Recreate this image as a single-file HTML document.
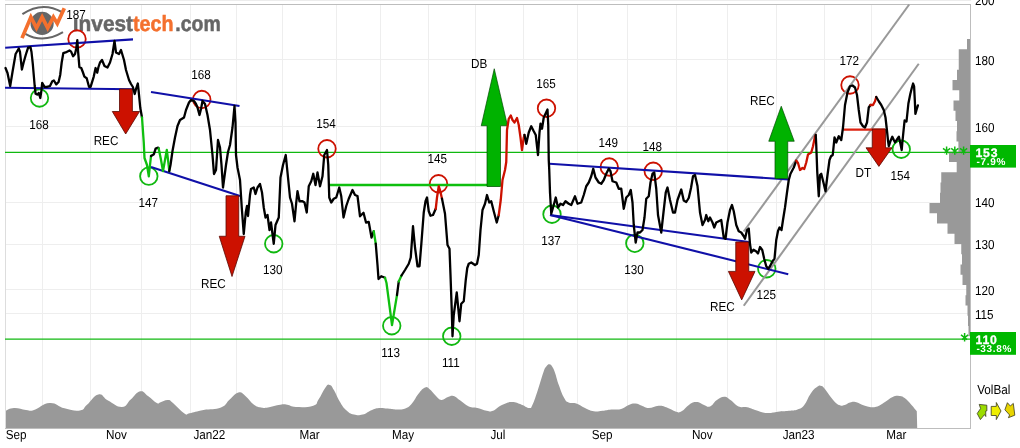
<!DOCTYPE html>
<html><head><meta charset="utf-8"><title>chart</title>
<style>html,body{margin:0;padding:0;background:#fff;}svg{display:block;will-change:transform;}text{text-rendering:geometricPrecision;}</style></head>
<body>
<svg width="1020" height="448" viewBox="0 0 1020 448">
<rect width="1020" height="448" fill="#fff"/>
<rect x="5" y="0" width="966" height="1" fill="#ececec"/>
<line x1="42.5" y1="4.5" x2="42.5" y2="428" stroke="#eeeeee" stroke-width="1"/>
<line x1="90.5" y1="4.5" x2="90.5" y2="428" stroke="#eeeeee" stroke-width="1"/>
<line x1="141.5" y1="4.5" x2="141.5" y2="428" stroke="#eeeeee" stroke-width="1"/>
<line x1="190.5" y1="4.5" x2="190.5" y2="428" stroke="#eeeeee" stroke-width="1"/>
<line x1="236.5" y1="4.5" x2="236.5" y2="428" stroke="#eeeeee" stroke-width="1"/>
<line x1="282.5" y1="4.5" x2="282.5" y2="428" stroke="#eeeeee" stroke-width="1"/>
<line x1="336.5" y1="4.5" x2="336.5" y2="428" stroke="#eeeeee" stroke-width="1"/>
<line x1="380.5" y1="4.5" x2="380.5" y2="428" stroke="#eeeeee" stroke-width="1"/>
<line x1="428.5" y1="4.5" x2="428.5" y2="428" stroke="#eeeeee" stroke-width="1"/>
<line x1="475.5" y1="4.5" x2="475.5" y2="428" stroke="#eeeeee" stroke-width="1"/>
<line x1="523.5" y1="4.5" x2="523.5" y2="428" stroke="#eeeeee" stroke-width="1"/>
<line x1="577.5" y1="4.5" x2="577.5" y2="428" stroke="#eeeeee" stroke-width="1"/>
<line x1="627.5" y1="4.5" x2="627.5" y2="428" stroke="#eeeeee" stroke-width="1"/>
<line x1="676.5" y1="4.5" x2="676.5" y2="428" stroke="#eeeeee" stroke-width="1"/>
<line x1="727.5" y1="4.5" x2="727.5" y2="428" stroke="#eeeeee" stroke-width="1"/>
<line x1="776.5" y1="4.5" x2="776.5" y2="428" stroke="#eeeeee" stroke-width="1"/>
<line x1="824.5" y1="4.5" x2="824.5" y2="428" stroke="#eeeeee" stroke-width="1"/>
<line x1="871.5" y1="4.5" x2="871.5" y2="428" stroke="#eeeeee" stroke-width="1"/>
<line x1="5" y1="59.5" x2="970" y2="59.5" stroke="#eeeeee" stroke-width="1"/>
<line x1="5" y1="126.5" x2="970" y2="126.5" stroke="#eeeeee" stroke-width="1"/>
<line x1="5" y1="202.5" x2="970" y2="202.5" stroke="#eeeeee" stroke-width="1"/>
<line x1="5" y1="244.5" x2="970" y2="244.5" stroke="#eeeeee" stroke-width="1"/>
<line x1="5" y1="289.5" x2="970" y2="289.5" stroke="#eeeeee" stroke-width="1"/>
<line x1="5" y1="313.5" x2="970" y2="313.5" stroke="#eeeeee" stroke-width="1"/>
<path d="M970,39.00L967,39.0L967,49.25L958.75,49.25L958.75,59.5L958.75,59.5L958.75,69.75L957,69.75L957,80.0L952.5,80.0L952.5,90.25L959.25,90.25L959.25,100.5L953.5,100.5L953.5,110.75L955.5,110.75L955.5,121.0L957,121.0L957,131.25L956.5,131.25L956.5,141.5L958.4,141.5L958.4,151.75L949,151.75L949,162.0L956.7,162.0L956.7,172.25L941.25,172.25L941.25,182.5L940.5,182.5L940.5,192.75L940,192.75L940,203.0L929.5,203.0L929.5,213.25L937,213.25L937,223.5L947.5,223.5L947.5,233.75L954.5,233.75L954.5,244.0L961.25,244.0L961.25,254.25L962,254.25L962,264.5L960.5,264.5L960.5,274.75L962.5,274.75L962.5,285.0L966.25,285.0L966.25,295.25L965.5,295.25L965.5,305.5L967.5,305.5L967.5,315.75L968,315.75L968,326.0L968.5,326.0L968.5,336.25L970,336.25Z" fill="#999"/>
<path d="M5.20,411.00C7.25,410.30 9.15,408.23 14.00,408.00C18.85,407.77 21.33,409.53 26.00,410.00C30.67,410.47 28.49,411.63 34.00,410.00C39.51,408.37 42.48,403.40 49.60,403.00C56.72,402.60 57.41,406.57 64.50,408.30C71.59,410.03 74.75,411.22 80.00,410.40C85.25,409.58 82.71,408.53 87.00,404.80C91.29,401.07 93.50,395.40 98.40,394.40C103.30,393.40 102.49,397.56 108.00,400.50C113.51,403.44 116.70,407.21 122.00,407.00C127.30,406.79 126.45,403.26 130.70,399.60C134.95,395.94 136.16,392.14 140.20,391.30C144.24,390.46 144.13,393.27 148.00,396.00C151.87,398.73 154.00,401.48 156.80,403.00C159.60,404.52 157.43,403.20 160.00,402.50C162.57,401.80 164.77,399.88 167.80,400.00C170.83,400.12 169.13,399.85 173.00,403.00C176.87,406.15 180.53,411.12 184.40,413.50C188.27,415.88 185.14,414.02 189.60,413.20C194.06,412.38 196.17,411.33 203.50,410.00C210.83,408.67 214.89,409.93 221.00,407.50C227.11,405.07 225.64,403.08 229.70,399.60C233.76,396.12 234.74,393.44 238.40,392.60C242.06,391.76 241.76,393.15 245.40,396.00C249.04,398.85 250.36,402.12 254.00,404.80C257.64,407.48 257.73,406.87 261.00,407.50C264.27,408.13 263.52,408.13 268.00,407.50C272.48,406.87 275.72,405.43 280.20,404.80C284.68,404.17 283.51,404.29 287.20,404.80C290.89,405.31 289.91,406.79 296.00,407.00C302.09,407.21 308.05,407.43 313.30,405.70C318.55,403.97 315.65,403.87 318.50,399.60C321.35,395.33 322.86,390.81 325.50,387.40C328.14,383.99 327.77,384.28 329.80,385.00C331.83,385.72 331.89,386.67 334.20,390.50C336.51,394.33 336.88,396.80 339.70,401.40C342.52,406.00 342.99,407.14 346.30,410.20C349.61,413.26 350.07,413.50 353.90,414.50C357.73,415.50 358.62,415.50 362.70,414.50C366.78,413.50 367.60,411.72 371.40,410.20C375.20,408.68 375.17,408.37 379.00,408.00C382.83,407.63 383.69,408.25 387.80,408.60C391.91,408.95 392.52,409.50 396.60,409.50C400.68,409.50 401.73,409.98 405.30,408.60C408.87,407.22 408.82,407.05 411.90,403.60C414.98,400.15 415.44,397.53 418.50,393.80C421.56,390.07 422.46,388.72 425.00,387.60C427.54,386.48 426.83,387.04 429.40,389.00C431.97,390.96 433.20,393.46 436.00,396.00C438.80,398.54 438.60,399.67 441.40,399.90C444.20,400.13 445.18,397.91 448.00,397.00C450.82,396.09 450.70,395.23 453.50,396.00C456.30,396.77 456.43,397.85 460.00,400.30C463.57,402.75 464.72,404.70 468.80,406.50C472.88,408.30 473.35,407.00 477.50,408.00C481.65,409.00 482.96,410.15 486.60,410.80C490.24,411.45 489.53,412.13 493.10,410.80C496.67,409.47 497.56,407.13 501.90,405.10C506.24,403.07 507.10,402.19 511.70,402.10C516.30,402.01 517.52,403.32 521.60,404.70C525.68,406.08 526.66,408.00 529.20,408.00C531.74,408.00 530.45,409.04 532.50,404.70C534.55,400.36 535.43,397.05 538.00,389.40C540.57,381.75 541.52,377.29 543.50,371.90C545.48,366.51 545.12,368.10 546.50,366.30C547.88,364.50 548.05,364.08 549.40,364.20C550.75,364.32 550.99,364.79 552.30,366.80C553.61,368.81 553.48,368.55 555.00,372.80C556.52,377.05 556.65,379.10 558.80,385.00C560.95,390.90 561.91,394.02 564.20,398.10C566.49,402.18 565.78,401.22 568.60,402.50C571.42,403.78 572.47,402.32 576.30,403.60C580.13,404.88 580.92,406.20 585.00,408.00C589.08,409.80 589.72,410.65 593.80,411.30C597.88,411.95 598.42,411.22 602.50,410.80C606.58,410.38 606.96,409.90 611.30,409.50C615.64,409.10 617.02,410.13 621.10,409.10C625.18,408.07 625.46,406.38 628.80,405.10C632.14,403.82 632.34,403.44 635.40,403.60C638.46,403.76 638.77,404.77 641.90,405.80C645.03,406.83 644.90,408.00 648.80,408.00C652.70,408.00 654.52,405.96 658.60,405.80C662.68,405.64 662.22,405.92 666.30,407.30C670.38,408.68 672.53,410.77 676.10,411.70C679.67,412.63 678.54,412.93 681.60,411.30C684.66,409.67 685.72,406.85 689.20,404.70C692.68,402.55 693.16,402.10 696.50,402.10C699.84,402.10 700.35,403.67 703.50,404.70C706.65,405.73 706.94,407.53 710.00,406.50C713.06,405.47 713.29,402.56 716.60,400.30C719.91,398.04 720.89,396.80 724.20,396.80C727.51,396.80 727.46,398.04 730.80,400.30C734.14,402.56 734.67,404.87 738.50,406.50C742.33,408.13 743.12,406.44 747.20,407.30C751.28,408.16 751.40,408.87 756.00,410.20C760.60,411.53 761.79,412.65 766.90,413.00C772.01,413.35 772.79,412.21 777.90,411.70C783.01,411.19 784.23,411.31 788.80,410.80C793.37,410.29 793.93,410.78 797.50,409.50C801.07,408.22 801.04,408.96 804.10,405.30C807.16,401.64 807.54,398.12 810.60,393.80C813.66,389.48 814.63,388.60 817.20,386.80C819.77,385.00 819.55,385.24 821.60,386.10C823.65,386.96 823.46,387.44 826.00,390.50C828.54,393.56 829.44,395.79 832.50,399.20C835.56,402.61 836.28,403.72 839.10,405.10C841.92,406.48 842.06,405.71 844.60,405.10C847.14,404.49 847.46,403.20 850.00,402.50C852.54,401.80 852.70,401.59 855.50,402.10C858.30,402.61 858.69,403.58 862.00,404.70C865.31,405.82 866.11,406.48 869.70,406.90C873.29,407.32 873.83,407.62 877.40,406.50C880.97,405.38 881.43,404.32 885.00,402.10C888.57,399.88 889.36,398.42 892.70,397.00C896.04,395.58 896.50,395.74 899.30,396.00C902.10,396.26 901.90,396.07 904.70,398.10C907.50,400.13 908.48,401.62 911.30,404.70C914.12,407.78 915.52,409.76 916.80,411.30L917.2,428L5.2,428Z" fill="#999"/>
<line x1="5.5" y1="4.5" x2="5.5" y2="429" stroke="#ddd" stroke-width="1"/>
<line x1="5" y1="4.5" x2="971" y2="4.5" stroke="#bdbdbd" stroke-width="1"/>
<line x1="970.5" y1="4" x2="970.5" y2="429" stroke="#bdbdbd" stroke-width="1"/>
<line x1="5" y1="428.5" x2="971" y2="428.5" stroke="#bdbdbd" stroke-width="1"/>
<g id="logo">
<circle cx="42.1" cy="23.4" r="11.6" fill="#666"/>
<path d="M22.4,14.2Q42,1 61.8,12" fill="none" stroke="#666" stroke-width="2.1"/>
<path d="M25.3,33.8Q43,44 63,32.2" fill="none" stroke="#666" stroke-width="2.1"/>
<polyline points="22,38.1 30.9,17.1 36.5,28 42.1,17.1 47.7,28 53.4,17.1 57.3,23.6 64.3,8.2" fill="none" stroke="#f4702e" stroke-width="3.7" stroke-linejoin="miter"/>
<g font-family="Liberation Sans, sans-serif" font-weight="bold" font-size="22">
<text x="72.8" y="31.3" fill="#666" stroke="#666" stroke-width="0.5" textLength="60.2" lengthAdjust="spacingAndGlyphs">&#305;nvest</text>
<text x="133" y="31.3" fill="#f4702e" stroke="#f4702e" stroke-width="0.5" textLength="40.5" lengthAdjust="spacingAndGlyphs">tech</text>
<text x="175.3" y="31.3" fill="#666" stroke="#666" stroke-width="0.5" textLength="45.4" lengthAdjust="spacingAndGlyphs">.com</text>
</g></g>
<line x1="5" y1="152.4" x2="970" y2="152.4" stroke="#10b810" stroke-width="1.25"/>
<line x1="5" y1="339.2" x2="970" y2="339.2" stroke="#10b810" stroke-width="1.25"/>
<circle cx="77" cy="39" r="8.75" fill="none" stroke="#cc1100" stroke-width="1.8"/>
<circle cx="201.75" cy="99.5" r="8.75" fill="none" stroke="#cc1100" stroke-width="1.8"/>
<circle cx="327" cy="148.75" r="8.75" fill="none" stroke="#cc1100" stroke-width="1.8"/>
<circle cx="438.5" cy="183.75" r="8.75" fill="none" stroke="#cc1100" stroke-width="1.8"/>
<circle cx="546.5" cy="108.25" r="8.75" fill="none" stroke="#cc1100" stroke-width="1.8"/>
<circle cx="609.25" cy="167" r="8.75" fill="none" stroke="#cc1100" stroke-width="1.8"/>
<circle cx="653.25" cy="171.25" r="8.75" fill="none" stroke="#cc1100" stroke-width="1.8"/>
<circle cx="850" cy="85" r="8.75" fill="none" stroke="#cc1100" stroke-width="1.8"/>
<circle cx="39.5" cy="98" r="8.75" fill="none" stroke="#10b810" stroke-width="1.8"/>
<circle cx="148.8" cy="176.2" r="8.75" fill="none" stroke="#10b810" stroke-width="1.8"/>
<circle cx="273.75" cy="243.75" r="8.75" fill="none" stroke="#10b810" stroke-width="1.8"/>
<circle cx="391.75" cy="325.75" r="8.75" fill="none" stroke="#10b810" stroke-width="1.8"/>
<circle cx="451.75" cy="336.25" r="8.75" fill="none" stroke="#10b810" stroke-width="1.8"/>
<circle cx="552" cy="214.25" r="8.75" fill="none" stroke="#10b810" stroke-width="1.8"/>
<circle cx="634.8" cy="243.3" r="8.75" fill="none" stroke="#10b810" stroke-width="1.8"/>
<circle cx="766.75" cy="268.75" r="8.75" fill="none" stroke="#10b810" stroke-width="1.8"/>
<circle cx="901.25" cy="149.25" r="8.75" fill="none" stroke="#10b810" stroke-width="1.8"/>
<line x1="743.75" y1="231.5" x2="909.2" y2="4.5" stroke="#999" stroke-width="2.05"/>
<line x1="743.75" y1="305.75" x2="918.75" y2="63.75" stroke="#999" stroke-width="2.05"/>
<line x1="5.2" y1="47.8" x2="133" y2="39.4" stroke="#1010a8" stroke-width="2.1"/>
<line x1="5" y1="87.7" x2="133" y2="89.3" stroke="#1010a8" stroke-width="2.1"/>
<line x1="151" y1="92" x2="239.5" y2="106" stroke="#1010a8" stroke-width="2.1"/>
<line x1="151" y1="167" x2="240" y2="196" stroke="#1010a8" stroke-width="2.1"/>
<line x1="549.5" y1="163.75" x2="788.75" y2="179.5" stroke="#1010a8" stroke-width="2.1"/>
<line x1="550" y1="215" x2="748.75" y2="242" stroke="#1010a8" stroke-width="2.1"/>
<line x1="550" y1="215" x2="788.25" y2="274.25" stroke="#1010a8" stroke-width="2.1"/>
<line x1="330" y1="185" x2="500" y2="185" stroke="#0fbf0f" stroke-width="2.7"/>
<line x1="843.25" y1="129.6" x2="885" y2="129.6" stroke="#dd2211" stroke-width="2.2"/>
<path d="M119.5,89H132.4V111.5H139.5L125.7,134L112.3,111.5H119.5Z" fill="#cc1100" stroke="#5a0800" stroke-width="0.8"/>
<path d="M226,195.75H238.75V236.25H245L232,276.5L219.25,236.25H226Z" fill="#cc1100" stroke="#5a0800" stroke-width="0.8"/>
<path d="M487,186.5H500.5V125.75H507.5L494.25,68.75L481.25,125.75H487Z" fill="#00b200" stroke="#004a00" stroke-width="0.7"/>
<path d="M735.75,242H748.75V271.4H755L741.7,299.9L728.4,271.4H735.75Z" fill="#cc1100" stroke="#5a0800" stroke-width="0.8"/>
<path d="M775,178.5H787.75V141.25H794.25L781.25,106.25L768.75,141.25H775Z" fill="#00b200" stroke="#004a00" stroke-width="0.7"/>
<path d="M872.3,129H885.5V147.8H892L878.9,166.4L866,147.8H872.3Z" fill="#cc1100" stroke="#5a0800" stroke-width="0.8"/>
<polyline points="5.50,68.00 7.50,73.00 10.20,86.00 12.50,72.00 15.60,54.00 18.75,48.50 20.00,52.00 21.90,69.60 23.50,63.00 25.80,54.75 28.10,47.70 30.50,47.25 31.50,52.00 32.80,64.00 34.70,86.00 35.60,93.80 37.50,94.60 38.75,93.00 40.30,98.00 41.40,90.70 42.20,82.90 44.50,86.80 46.90,86.80 50.00,86.00 52.30,81.30 53.90,80.50 56.25,84.40 58.60,82.00 60.20,75.00 61.70,62.50 63.30,53.20 65.60,52.40 69.50,50.40 71.10,51.60 73.10,56.30 75.00,54.00 76.25,48.50 77.30,40.20 78.10,51.60 79.40,67.25 81.25,68.00 82.80,72.00 84.40,76.60 86.70,78.20 89.00,86.80 90.60,86.80 93.75,76.60 95.60,68.00 97.20,72.70 98.40,67.25 100.00,62.50 102.00,60.00 104.50,66.00 107.50,67.50 110.00,62.50 112.50,54.00 114.50,41.00 116.00,52.50 119.00,54.00 121.00,50.00 124.00,60.00 126.00,70.00 129.00,80.00 131.00,84.00 132.90,87.00 134.70,94.00 135.90,89.40 137.80,83.50 138.60,90.60 140.30,108.00 142.00,117.50" fill="none" stroke="#000" stroke-width="2.3" stroke-linejoin="round" stroke-linecap="round"/>
<polyline points="142.00,117.50 143.75,142.50 144.50,158.00 147.00,165.00 148.80,176.30 150.00,165.00 151.00,156.00" fill="none" stroke="#0fbf0f" stroke-width="2.3" stroke-linejoin="round" stroke-linecap="round"/>
<polyline points="151.00,156.00 153.90,154.20 155.60,148.60 158.20,147.60 158.70,148.40" fill="none" stroke="#000" stroke-width="2.3" stroke-linejoin="round" stroke-linecap="round"/>
<polyline points="158.70,148.40 160.80,158.70 163.00,171.00 165.00,160.00 166.80,150.00 168.30,162.00 169.30,171.00" fill="none" stroke="#0fbf0f" stroke-width="2.3" stroke-linejoin="round" stroke-linecap="round"/>
<polyline points="169.30,171.00 170.50,165.00 172.50,151.00 175.00,137.50 177.50,126.00 180.00,120.00 184.00,117.50 186.00,110.00 189.00,102.50 191.00,100.00 194.00,101.00 196.00,104.00 197.50,107.50 199.50,115.00 201.00,109.00 202.50,101.00 205.00,104.00 207.50,115.00 210.00,130.00 212.50,155.00 214.00,174.00 216.00,170.00 218.00,140.00 220.00,147.50 221.50,165.00 223.00,187.50 226.00,165.00 228.00,152.00 230.00,145.00 232.50,127.50 234.50,106.00 235.50,122.50 236.00,155.00 237.50,167.50 240.00,180.00 241.75,207.50 243.75,234.00 245.75,212.50 247.00,206.00 248.00,216.00 250.00,195.00 251.00,189.00 253.75,187.50 255.50,194.00 257.50,187.50 260.00,184.00 262.00,192.50 263.75,207.50 265.50,217.50 267.50,215.00 269.50,230.00 271.00,222.50 273.75,243.75 275.50,225.00 278.75,217.50 280.50,177.50 283.00,165.00 285.75,155.00 288.00,177.50 290.00,197.50 292.00,203.75 294.50,221.25 296.25,202.50 297.50,191.25 299.50,201.25 302.50,201.25 304.50,202.50 306.75,212.50 308.75,186.25 311.25,181.25 313.25,173.75 315.50,185.00 317.50,172.50 320.00,186.25 322.50,176.25 324.25,155.00 327.00,150.00 328.25,165.00 329.25,197.50 331.25,202.50 333.75,198.75 336.25,197.50 339.25,187.50 341.25,196.25 343.50,217.50 346.25,206.00 348.75,198.75 352.50,190.00 355.00,195.00 357.50,196.00 360.00,216.25 363.50,212.75 366.00,222.50 368.75,222.00 371.50,237.50 373.75,231.25" fill="none" stroke="#000" stroke-width="2.3" stroke-linejoin="round" stroke-linecap="round"/>
<polyline points="373.75,231.25 375.75,243.75" fill="none" stroke="#0fbf0f" stroke-width="2.3" stroke-linejoin="round" stroke-linecap="round"/>
<polyline points="375.75,243.75 377.50,265.00 378.50,279.00 381.25,276.25 385.00,277.75" fill="none" stroke="#000" stroke-width="2.3" stroke-linejoin="round" stroke-linecap="round"/>
<polyline points="385.00,277.75 386.50,283.00 392.00,325.00 397.00,295.00" fill="none" stroke="#0fbf0f" stroke-width="2.3" stroke-linejoin="round" stroke-linecap="round"/>
<polyline points="397.00,295.00 398.75,281.50" fill="none" stroke="#000" stroke-width="2.3" stroke-linejoin="round" stroke-linecap="round"/>
<polyline points="398.75,281.50 401.50,275.50" fill="none" stroke="#0fbf0f" stroke-width="2.3" stroke-linejoin="round" stroke-linecap="round"/>
<polyline points="401.50,275.50 405.00,270.00 408.75,263.75 410.75,257.50 413.00,226.25 415.00,247.50 417.50,266.25 419.50,266.25 421.25,245.00 423.75,212.50 425.50,201.25 427.00,197.50 428.75,211.25 430.50,215.75 433.00,215.00 435.75,208.75" fill="none" stroke="#000" stroke-width="2.3" stroke-linejoin="round" stroke-linecap="round"/>
<polyline points="435.75,208.75 437.00,197.50 438.75,186.25 440.00,190.00 442.00,198.75" fill="none" stroke="#cc1100" stroke-width="2.3" stroke-linejoin="round" stroke-linecap="round"/>
<polyline points="442.00,198.75 445.00,213.75 447.50,245.00 449.50,248.75 450.50,275.00 451.75,310.00 452.50,336.25 453.75,315.00 456.75,292.50 459.50,321.25 461.25,303.75 463.75,301.25 465.75,280.00 467.25,268.00 468.75,263.75 471.25,262.50 475.00,265.00 477.00,263.75 478.75,255.00 480.50,230.00 482.50,210.00 485.00,203.75 487.00,195.00 489.25,202.50 491.25,201.25 493.75,211.25 496.75,222.50 498.75,215.00" fill="none" stroke="#000" stroke-width="2.3" stroke-linejoin="round" stroke-linecap="round"/>
<polyline points="498.75,215.00 500.75,200.00 502.50,180.00 505.00,170.00 506.25,162.00 507.00,130.00 508.75,118.75 510.75,115.50 512.50,120.00 514.50,122.50 517.00,118.00 518.75,125.00 520.50,137.50 522.00,150.00 523.75,137.50 524.50,135.00" fill="none" stroke="#cc1100" stroke-width="2.3" stroke-linejoin="round" stroke-linecap="round"/>
<polyline points="524.50,135.00 526.25,143.75 528.75,132.50 531.25,126.25 533.75,131.25 535.75,135.00 538.00,155.00 539.50,132.50 540.50,123.75 542.00,128.75 543.75,117.50 545.50,113.75 547.50,109.50 548.25,125.00 548.75,160.00 549.25,170.00 550.00,192.50 551.25,213.75 553.75,205.00 555.75,197.50 558.00,207.50 560.50,203.75 563.00,205.00 565.50,201.25 568.75,203.75 571.25,205.00 575.00,196.25 577.50,203.75 581.25,202.50 583.75,195.00 586.25,186.25 588.75,182.50 591.25,176.25 593.25,168.75 595.50,177.50 598.75,182.50 601.25,183.75 603.75,180.00 606.25,173.75 608.75,168.75 610.50,171.25 612.50,181.25 616.25,182.50 618.75,188.75 621.25,188.75 623.75,208.75 626.25,197.50 628.75,195.00 630.75,190.00 632.50,202.50 633.75,225.00 635.70,242.50 637.50,232.50 640.00,232.50 642.50,230.00 644.50,217.50 646.25,198.75 648.75,196.25 650.50,182.50 652.50,173.75 654.25,172.50 656.25,188.75 658.00,215.00 661.25,232.50 663.75,210.00 665.75,192.50 667.50,187.50 670.00,200.00 673.00,212.50 675.00,212.50 677.50,200.00 681.25,189.50 683.75,200.50 686.25,202.00 688.75,198.00 691.00,188.00 693.00,176.25 695.00,175.00 697.50,186.00 700.00,212.50 702.50,225.00 705.00,220.00 706.25,215.00 708.25,221.25 710.00,217.50 712.50,222.50 714.25,227.50 716.25,222.50 718.75,221.25 721.25,220.00 723.75,237.50 725.50,238.75 727.50,222.50 730.00,210.00 732.00,205.00 733.75,211.25 736.25,225.00 738.75,231.25 741.25,232.50 743.75,236.25 745.00,238.75 747.00,230.00 748.75,228.50 750.00,244.00 751.25,252.50 753.50,249.75 756.00,251.25 758.00,253.50 760.00,247.00 762.25,250.00 764.25,259.00 766.25,266.25 768.25,268.75 770.00,266.25 772.50,261.25 774.50,258.75 775.50,248.00 776.25,240.00 778.00,231.00 779.50,227.50 781.50,230.00 783.00,220.00 785.00,207.50 787.00,192.50 788.75,180.00 790.50,173.75 793.75,167.50 796.25,160.75" fill="none" stroke="#000" stroke-width="2.3" stroke-linejoin="round" stroke-linecap="round"/>
<polyline points="796.25,160.75 798.00,163.00 800.00,170.00 802.50,168.00 804.25,169.00 806.25,162.50 808.00,154.50 811.25,152.50 813.00,146.25 815.00,136.25 815.75,135.00" fill="none" stroke="#cc1100" stroke-width="2.3" stroke-linejoin="round" stroke-linecap="round"/>
<polyline points="815.75,135.00 816.25,145.00 817.25,172.00 818.75,196.25 820.00,175.00 821.25,173.75 823.75,183.75 825.50,191.25 827.50,175.00 829.50,160.00 831.00,156.25 832.75,155.00 834.50,137.50 836.25,142.50 838.75,136.25 841.25,140.00 843.00,127.50 845.00,105.00 847.50,92.50 850.00,86.25 852.50,85.50 855.00,87.50 857.00,95.00 858.75,110.00 860.50,122.50 863.00,126.25 865.00,127.50 867.00,122.50 868.75,107.50 870.50,105.00" fill="none" stroke="#000" stroke-width="2.3" stroke-linejoin="round" stroke-linecap="round"/>
<polyline points="870.50,105.00 873.00,105.00 875.00,101.25 876.25,97.00" fill="none" stroke="#cc1100" stroke-width="2.3" stroke-linejoin="round" stroke-linecap="round"/>
<polyline points="876.25,97.00 878.75,101.25 881.25,105.00 883.75,110.00 885.50,117.50 886.90,130.00 888.10,141.40 888.80,146.20 890.50,141.00 892.30,136.70 893.80,140.00 895.10,142.40 897.00,139.50 898.90,136.70 900.30,143.00 901.70,150.00 902.60,140.00 903.60,130.00 904.60,120.50 906.50,121.50 908.40,103.50 910.30,94.00 911.80,88.00 913.10,83.50 914.10,86.40 914.80,100.00 915.40,113.90 916.50,110.00 917.90,105.40" fill="none" stroke="#000" stroke-width="2.3" stroke-linejoin="round" stroke-linecap="round"/>
<g font-family="Liberation Sans, sans-serif" font-size="13" fill="#000">
<text transform="translate(76,19.2) scale(0.9,1)" text-anchor="middle">187</text>
<text transform="translate(39,128.8) scale(0.9,1)" text-anchor="middle">168</text>
<text transform="translate(201,78.8) scale(0.9,1)" text-anchor="middle">168</text>
<text transform="translate(106,145.2) scale(0.9,1)" text-anchor="middle">REC</text>
<text transform="translate(148.2,206.7) scale(0.9,1)" text-anchor="middle">147</text>
<text transform="translate(213.4,287.9) scale(0.9,1)" text-anchor="middle">REC</text>
<text transform="translate(272.8,273.5) scale(0.9,1)" text-anchor="middle">130</text>
<text transform="translate(325.9,127.6) scale(0.9,1)" text-anchor="middle">154</text>
<text transform="translate(437.2,163.3) scale(0.9,1)" text-anchor="middle">145</text>
<text transform="translate(479.1,67.6) scale(0.9,1)" text-anchor="middle">DB</text>
<text transform="translate(546.1,87.6) scale(0.9,1)" text-anchor="middle">165</text>
<text transform="translate(608.2,146.5) scale(0.9,1)" text-anchor="middle">149</text>
<text transform="translate(652.2,150.7) scale(0.9,1)" text-anchor="middle">148</text>
<text transform="translate(550.9,244.6) scale(0.9,1)" text-anchor="middle">137</text>
<text transform="translate(634,273.6) scale(0.9,1)" text-anchor="middle">130</text>
<text transform="translate(390.6,356.6) scale(0.9,1)" text-anchor="middle">113</text>
<text transform="translate(450.8,366.5) scale(0.9,1)" text-anchor="middle">111</text>
<text transform="translate(722.4,310.5) scale(0.9,1)" text-anchor="middle">REC</text>
<text transform="translate(766.3,298.7) scale(0.9,1)" text-anchor="middle">125</text>
<text transform="translate(762.4,105.4) scale(0.9,1)" text-anchor="middle">REC</text>
<text transform="translate(849.2,64.9) scale(0.9,1)" text-anchor="middle">172</text>
<text transform="translate(863.4,176.7) scale(0.9,1)" text-anchor="middle">DT</text>
<text transform="translate(900.2,179.7) scale(0.9,1)" text-anchor="middle">154</text>
<text transform="translate(974.9,5.1) scale(0.9,1)" text-anchor="start">200</text>
<text transform="translate(974.9,65.1) scale(0.9,1)" text-anchor="start">180</text>
<text transform="translate(974.9,132.1) scale(0.9,1)" text-anchor="start">160</text>
<text transform="translate(974.9,207.1) scale(0.9,1)" text-anchor="start">140</text>
<text transform="translate(974.9,249.1) scale(0.9,1)" text-anchor="start">130</text>
<text transform="translate(974.9,295.35) scale(0.9,1)" text-anchor="start">120</text>
<text transform="translate(974.9,319.1) scale(0.9,1)" text-anchor="start">115</text>
<text transform="translate(5.7,438.7) scale(0.9,1)" text-anchor="start">Sep</text>
<text transform="translate(106.0,438.7) scale(0.9,1)" text-anchor="start">Nov</text>
<text transform="translate(193.4,438.7) scale(0.9,1)" text-anchor="start">Jan22</text>
<text transform="translate(299.59999999999997,438.7) scale(0.9,1)" text-anchor="start">Mar</text>
<text transform="translate(392.0,438.7) scale(0.9,1)" text-anchor="start">May</text>
<text transform="translate(490.4,438.7) scale(0.9,1)" text-anchor="start">Jul</text>
<text transform="translate(591.6999999999999,438.7) scale(0.9,1)" text-anchor="start">Sep</text>
<text transform="translate(691.9,438.7) scale(0.9,1)" text-anchor="start">Nov</text>
<text transform="translate(782.6999999999999,438.7) scale(0.9,1)" text-anchor="start">Jan23</text>
<text transform="translate(886.1999999999999,438.7) scale(0.9,1)" text-anchor="start">Mar</text>
<text transform="translate(977.2,394.2) scale(0.9,1)" text-anchor="start">VolBal</text>
</g>
<rect x="970" y="145" width="46" height="22.6" fill="#00b800"/>
<rect x="970" y="332" width="46" height="22.8" fill="#00b800"/>
<g font-family="Liberation Sans, sans-serif" font-weight="bold" fill="#fff">
<text x="975.4" y="156.9" font-size="12.2" letter-spacing="0.9" stroke="#fff" stroke-width="0.3">153</text>
<text x="976.4" y="164.8" font-size="10" letter-spacing="0.75">-7.9%</text>
<text x="975.4" y="343.9" font-size="12.2" letter-spacing="0.9" stroke="#fff" stroke-width="0.3">110</text>
<text x="976.4" y="352" font-size="10" letter-spacing="0.65">-33.8%</text>
</g>
<path d="M946.6,146.39999999999998V154.79999999999998M943.0,148.29999999999998L949.1,153.0M950.2,148.29999999999998L944.1,153.0" stroke="#0fb80f" stroke-width="1.5" fill="none"/>
<path d="M954.8,146.39999999999998V154.79999999999998M951.1999999999999,148.29999999999998L957.3,153.0M958.4,148.29999999999998L952.3,153.0" stroke="#0fb80f" stroke-width="1.5" fill="none"/>
<path d="M963.6,146.39999999999998V154.79999999999998M960.0,148.29999999999998L966.1,153.0M967.2,148.29999999999998L961.1,153.0" stroke="#0fb80f" stroke-width="1.5" fill="none"/>
<path d="M964.6,333.0V341.40000000000003M961.0,334.90000000000003L967.1,339.6M968.2,334.90000000000003L962.1,339.6" stroke="#0fb80f" stroke-width="1.5" fill="none"/>
<polygon points="979.2,404.4 986.8,405.2 986.9,410.8 985.7,411 985.8,416.5 984.5,414.6 980.4,419.6 977.2,413.5 980.6,408.5" fill="#9bdc00" stroke="#3a3a20" stroke-width="0.8"/>
<polygon points="991.2,406.4 996.3,406.4 996.3,402.5 1001,411 996.3,419.6 996.3,415.5 991.2,415.5" fill="#eeee00" stroke="#3a3a20" stroke-width="0.8"/>
<polygon points="1007.4,402.7 1010.3,406 1013.3,403.4 1014.8,415.2 1008.4,417.7 1009.6,415 1004.9,409.8" fill="#e8d400" stroke="#3a3a20" stroke-width="0.8"/>
</svg>
</body></html>
